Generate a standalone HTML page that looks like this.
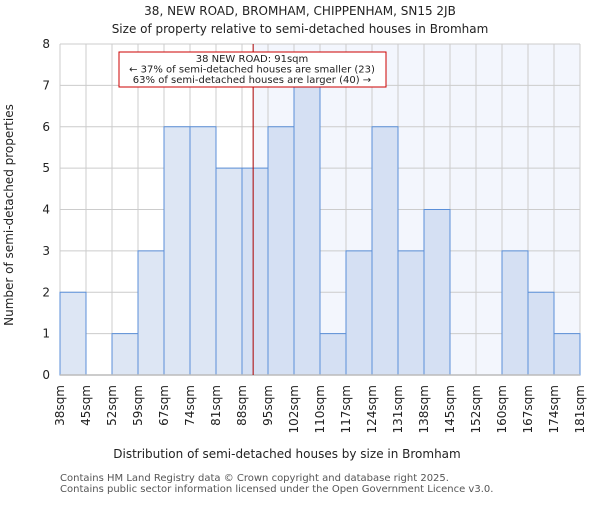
<!DOCTYPE html>
<html><head><meta charset="utf-8"><style>
body{margin:0;background:#fff;}
svg text{font-family:"DejaVu Sans","Liberation Sans",sans-serif;}
</style></head><body>
<svg id="chart" width="600" height="500" xmlns="http://www.w3.org/2000/svg">
<text x="300" y="15" text-anchor="middle" font-size="12" fill="#222">38, NEW ROAD, BROMHAM, CHIPPENHAM, SN15 2JB</text>
<text x="300" y="33" text-anchor="middle" font-size="12" fill="#222">Size of property relative to semi-detached houses in Bromham</text>
<g id="plot"></g>
<text x="287" y="458" text-anchor="middle" font-size="12" fill="#222">Distribution of semi-detached houses by size in Bromham</text>
<text transform="translate(13,215) rotate(-90)" text-anchor="middle" font-size="12" fill="#222">Number of semi-detached properties</text>
<text x="60" y="481" font-size="10" fill="#555">Contains HM Land Registry data © Crown copyright and database right 2025.</text>
<text x="60" y="492" font-size="10" fill="#555">Contains public sector information licensed under the Open Government Licence v3.0.</text>
</svg>
<script>
const binLabels=["38sqm","45sqm","52sqm","59sqm","67sqm","74sqm","81sqm","88sqm","95sqm","102sqm","110sqm","117sqm","124sqm","131sqm","138sqm","145sqm","152sqm","160sqm","167sqm","174sqm","181sqm"];
const binEdges=[38,45,52,59,67,74,81,88,95,102,110,117,124,131,138,145,152,160,167,174,181];
const counts=[2,0,1,3,6,6,5,5,6,7,1,3,6,3,4,0,0,3,2,1];
const yTicks=[0,1,2,3,4,5,6,7,8];
const markerValue=91;
const annotationLines=["38 NEW ROAD: 91sqm","← 37% of semi-detached houses are smaller (23)","63% of semi-detached houses are larger (40) →"];

const NS="http://www.w3.org/2000/svg";
const L=60,R=580,T=44,B=375,yMax=8;
const n=counts.length,bw=(R-L)/n;
const xIdx=i=>L+i*bw;
const xVal=v=>{for(let i=0;i<binEdges.length-1;i++){if(v>=binEdges[i]&&v<=binEdges[i+1])return xIdx(i+(v-binEdges[i])/(binEdges[i+1]-binEdges[i]));}return R;};
const y=v=>B-(B-T)*v/yMax;
const g=document.getElementById('plot');
function mk(tag,a){const e=document.createElementNS(NS,tag);for(const k in a)e.setAttribute(k,a[k]);g.appendChild(e);return e;}
const mx=xVal(markerValue);
let e=mk('rect',{x:mx,y:T,width:R-mx,height:B-T,fill:"#f3f6fd"});


for(let i=0;i<=n;i++){e=mk('line',{x1:xIdx(i),x2:xIdx(i),y1:T,y2:B,stroke:"#cccccc","stroke-width":1});

}
yTicks.forEach(t=>{e=mk('line',{x1:L,x2:R,y1:y(t),y2:y(t),stroke:"#cccccc","stroke-width":1});


const tx=mk('text',{x:L-10,y:y(t)+4,"text-anchor":"end","font-size":12,fill:"#222"});tx.textContent=t;

});
counts.forEach((c,i)=>{if(c<=0)return;const x0=xIdx(i);
e=mk('rect',{x:x0,y:y(c),width:bw,height:B-y(c),fill:x0+bw/2<mx?"#dde6f4":"#d5e0f3",stroke:"#5b8fd8","stroke-width":1});

});
binLabels.forEach((lb,i)=>{const x0=xIdx(i)+4;const tx=mk('text',{transform:`translate(${x0},${B+10}) rotate(-90)`,"text-anchor":"end","font-size":12,fill:"#222"});tx.textContent=lb;

});
e=mk('line',{x1:L,x2:R,y1:B,y2:B,stroke:"#bbbbbb","stroke-width":1.5});


e=mk('line',{x1:mx,x2:mx,y1:T,y2:B,stroke:"#aa0000","stroke-width":1});


e=mk('rect',{x:119,y:52,width:267,height:35,fill:"#fff",stroke:"#cc0000","stroke-width":1});


annotationLines.forEach((t,i)=>{const tx=mk('text',{x:252,y:62+i*10.5,"text-anchor":"middle","font-size":10,fill:"#222"});tx.textContent=t;

});
</script>
</body></html>
